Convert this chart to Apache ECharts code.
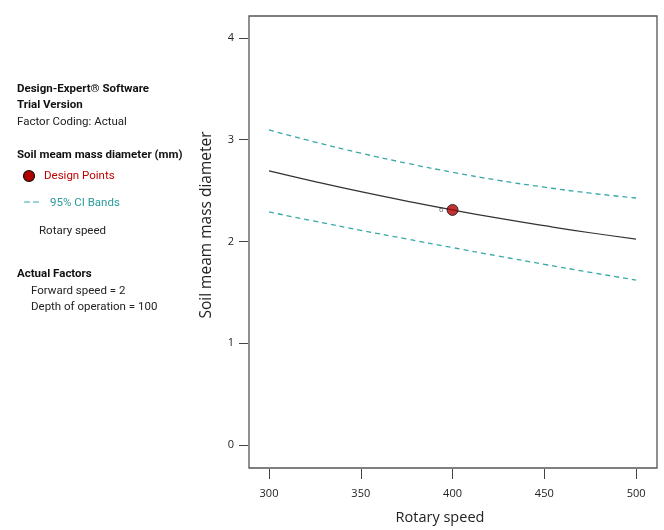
<!DOCTYPE html>
<html><head><meta charset="utf-8">
<script src="https://cdn.jsdelivr.net/npm/echarts@6/dist/echarts.min.js"></script>
<style>html,body{margin:0;padding:0;background:#fff}#c{width:664px;height:530px}</style>
</head><body><div id="c"></div>
<script>
const speeds = [300, 325, 350, 375, 400, 425, 450, 475, 500];
const predicted = [2.693, 2.588, 2.489, 2.397, 2.31, 2.229, 2.155, 2.086, 2.024];
const upperCI = [3.096, 2.977, 2.868, 2.769, 2.68, 2.601, 2.534, 2.475, 2.427];
const lowerCI = [2.290, 2.199, 2.110, 2.025, 1.94, 1.857, 1.776, 1.697, 1.621];
const designPoints = [[400, 2.31]];
const designLabels = ['6'];
const xTicks = [300, 350, 400, 450, 500];
const yTicks = [0, 1, 2, 3, 4];

const FONT = '"Open Sans", "Noto Sans", sans-serif';
const LFONT = 'Roboto, "Open Sans", sans-serif';
const teal = '#3aa8a8';
const pair = (xs, ys) => xs.map((x, i) => [x, ys[i]]);

const legendTexts = [
  {t: 'Design-Expert® Software', x: 17, y: 89, bold: true, c: '#111'},
  {t: 'Trial Version', x: 17, y: 105, bold: true, c: '#111'},
  {t: 'Factor Coding: Actual', x: 17, y: 122, c: '#222'},
  {t: 'Soil meam mass diameter (mm)', x: 17, y: 155, bold: true, c: '#111'},
  {t: 'Design Points', x: 44, y: 176, c: '#c00000'},
  {t: '95% CI Bands', x: 50, y: 203, c: '#2a9a9a'},
  {t: 'Rotary speed', x: 39, y: 231, c: '#222'},
  {t: 'Actual Factors', x: 17, y: 274, bold: true, c: '#111'},
  {t: 'Forward speed = 2', x: 31, y: 291, c: '#222'},
  {t: 'Depth of operation = 100', x: 31, y: 307, c: '#222'}
];

const graphics = legendTexts.map(o => ({
  type: 'text', x: o.x, y: o.y,
  style: {text: o.t, fill: o.c, verticalAlign: 'middle', font: (o.bold ? 'bold ' : '') + '11.5px ' + LFONT}
}));
graphics.push({type: 'circle', shape: {cx: 29, cy: 176, r: 5.5}, style: {fill: '#b00000', stroke: '#111', lineWidth: 1.2}});
graphics.push({type: 'line', shape: {x1: 24, y1: 202, x2: 30, y2: 202}, style: {stroke: teal, lineWidth: 1}});
graphics.push({type: 'line', shape: {x1: 33, y1: 202, x2: 39, y2: 202}, style: {stroke: teal, lineWidth: 1}});

const chart = echarts.init(document.getElementById('c'), null, {renderer: 'canvas'});
chart.setOption({
  animation: false,
  backgroundColor: '#fff',
  graphic: graphics,
  grid: {left: 249, top: 16, width: 408, height: 454, show: true, borderColor: '#555', borderWidth: 1.3, backgroundColor: 'transparent'},
  xAxis: {
    type: 'value', min: 289.1, max: 511.4, offset: 1,
    name: 'Rotary speed', nameLocation: 'middle', nameGap: 41,
    nameTextStyle: {fontFamily: FONT, fontSize: 14.5, color: '#222', padding: [0, 26, 0, 0]},
    axisLine: {show: false, onZero: false},
    axisTick: {show: true, length: 10, customValues: xTicks, lineStyle: {color: '#444'}},
    axisLabel: {customValues: xTicks, fontFamily: FONT, fontSize: 11, color: '#222', margin: 19},
    splitLine: {show: false}
  },
  yAxis: {
    type: 'value', min: -0.225, max: 4.215, offset: 1,
    name: 'Soil meam mass diameter', nameLocation: 'middle', nameGap: 33,
    nameTextStyle: {fontFamily: FONT, fontSize: 15.5, color: '#222', padding: [0, 0, 0, 34]},
    axisLine: {show: false, onZero: false},
    axisTick: {show: true, length: 9, customValues: yTicks, lineStyle: {color: '#444'}},
    axisLabel: {customValues: yTicks, fontFamily: FONT, fontSize: 11, color: '#222', margin: 14},
    splitLine: {show: false}
  },
  series: [
    {type: 'line', data: pair(speeds, upperCI), smooth: true, symbol: 'none',
     lineStyle: {color: teal, width: 1.3, type: [5, 4]}},
    {type: 'line', data: pair(speeds, lowerCI), smooth: true, symbol: 'none',
     lineStyle: {color: teal, width: 1.3, type: [5, 4]}},
    {type: 'line', data: pair(speeds, predicted), smooth: true, symbol: 'none',
     lineStyle: {color: '#333', width: 1.2}},
    {type: 'scatter', data: designPoints, symbolSize: 11, z: 5,
     itemStyle: {color: '#b00000', borderColor: '#111', borderWidth: 1},
     label: {show: true, position: 'left', distance: 3, formatter: p => designLabels[p.dataIndex],
             fontFamily: FONT, fontSize: 8, color: '#333'}}
  ]
});
</script></body></html>
